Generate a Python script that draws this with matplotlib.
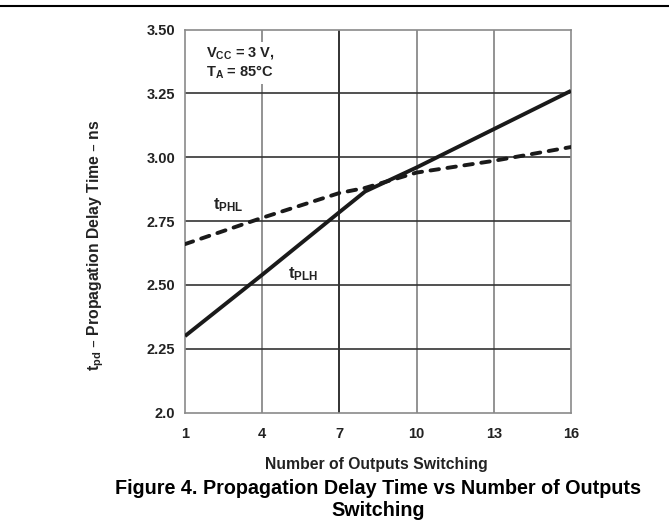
import matplotlib
matplotlib.use("Agg")
import matplotlib.pyplot as plt
from matplotlib.lines import Line2D

plt.rcParams["font.family"] = ["Liberation Sans", "DejaVu Sans"]
plt.rcParams["font.weight"] = "bold"
plt.rcParams["mathtext.default"] = "regular"

# data
n_outputs = [1, 4, 7, 8, 10, 13, 16]
t_plh = [2.30, 2.54, 2.785, 2.866, 2.96, 3.11, 3.26]
t_phl = [2.66, 2.763, 2.86, 2.88, 2.94, 2.986, 3.04]

x_ticks = [1, 4, 7, 10, 13, 16]
y_ticks = [2.0, 2.25, 2.50, 2.75, 3.00, 3.25, 3.50]
y_labels = ["2.0", "2.25", "2.50", "2.75", "3.00", "3.25", "3.50"]

fig = plt.figure(figsize=(6.69, 5.29), dpi=100)
ax = fig.add_axes([0.2765, 0.2198, 0.577, 0.7244])

# grid
for x in x_ticks[1:-1]:
    c = "#222222" if x == 7 else "#8a8a8a"
    ax.axvline(x, color=c, lw=1.3, zorder=1)
for y in y_ticks[1:-1]:
    ax.axhline(y, color="#333333", lw=1.2, zorder=1)

ax.plot(n_outputs, t_plh, color="#1a1a1a", lw=2.8, zorder=3, solid_capstyle="butt")
ax.plot(n_outputs, t_phl, color="#1a1a1a", lw=2.8, zorder=3,
        linestyle=(0, (2.2, 2.2)), dash_capstyle="round")

ax.set_xlim(1, 16)
ax.set_ylim(2.0, 3.5)
ax.set_xticks(x_ticks)
ax.set_yticks(y_ticks)
ax.set_yticklabels(y_labels)
ax.tick_params(axis="both", length=0, labelsize=10.5, colors="#222222")
ax.tick_params(axis="y", pad=7)
ax.tick_params(axis="x", pad=10)
for s in ax.spines.values():
    s.set_color("#8a8a8a")
    s.set_linewidth(1.2)

ax.text(1.8, 3.44, "$V_{CC}$ = 3 V,\n$T_A$ = 85°C", fontsize=10.5, va="top",
        ha="left", color="#222222", linespacing=1.25,
        bbox=dict(facecolor="white", edgecolor="none", pad=2), zorder=4)
ax.text(2.1, 2.795, "$t_{PHL}$", fontsize=12, color="#222222", zorder=4)
ax.text(5.0, 2.525, "$t_{PLH}$", fontsize=12, color="#222222", zorder=4)

fig.text(96 / 669, 1 - 245 / 529, "$t_{pd}$ – Propagation Delay Time – ns",
         rotation=90, ha="center", va="center", fontsize=11.3, color="#222222")
fig.text(376 / 669, 1 - 465 / 529, "Number of Outputs Switching",
         ha="center", va="center", fontsize=11.3, color="#222222")
fig.text(378 / 669, 1 - 489 / 529, "Figure 4. Propagation Delay Time vs Number of Outputs",
         ha="center", va="center", fontsize=14.2, color="black")
fig.text(378 / 669, 1 - 510 / 529, "Switching",
         ha="center", va="center", fontsize=14.2, color="black")

fig.add_artist(Line2D([0, 1], [1 - 6 / 529, 1 - 6 / 529], color="black", lw=1.5,
                      transform=fig.transFigure))

fig.savefig("out.png", dpi=100)
